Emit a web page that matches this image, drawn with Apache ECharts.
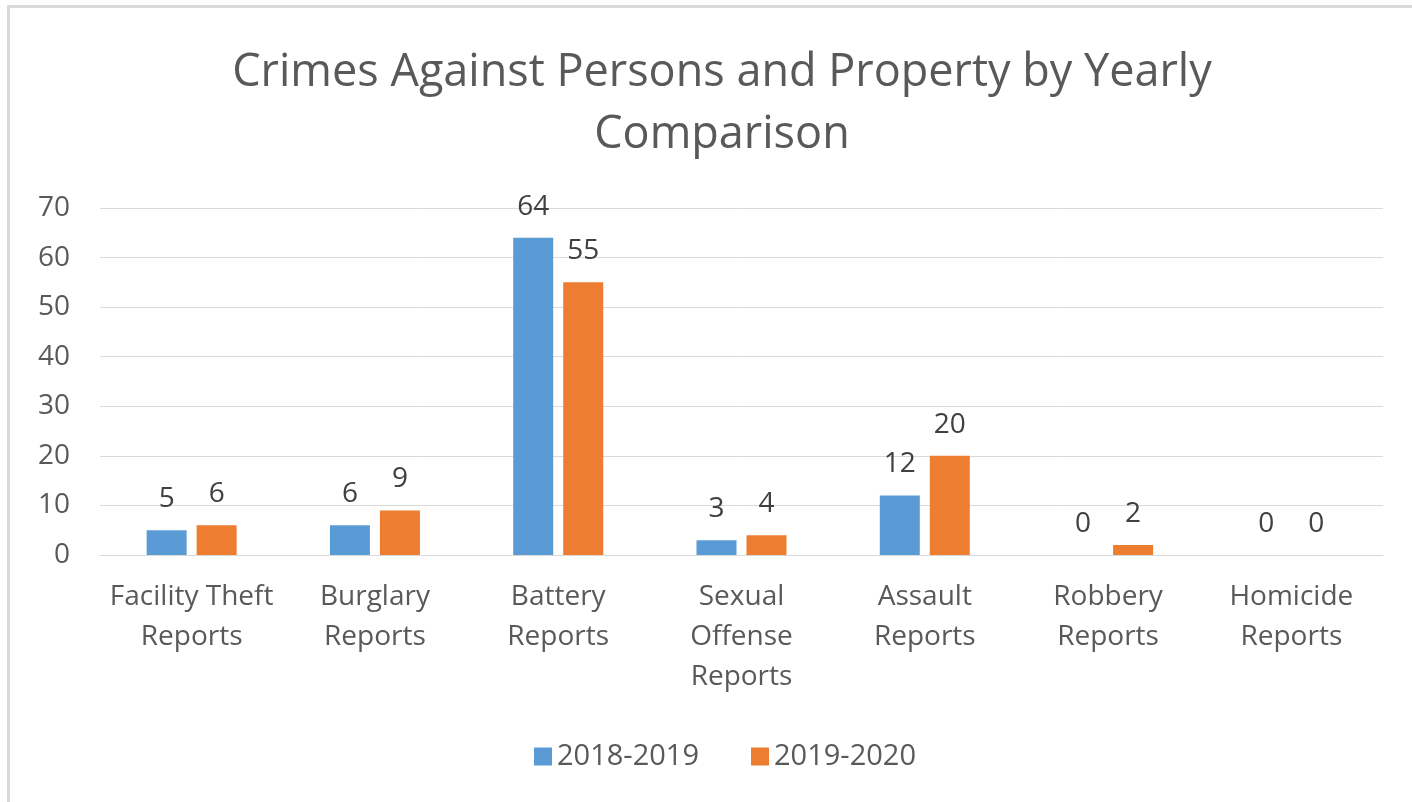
<!DOCTYPE html>
<html>
<head>
<meta charset="utf-8">
<script src="https://cdn.jsdelivr.net/npm/echarts@6/dist/echarts.min.js"></script>
<style>
html,body{margin:0;padding:0;background:#fff;}
#frame{position:absolute;left:7px;top:5px;width:1500px;height:900px;border-top:3px solid #d9d9d9;border-left:3px solid #d9d9d9;box-sizing:border-box;}
#chart{position:absolute;left:0;top:0;width:1412px;height:802px;}
</style>
</head>
<body>
<div id="frame"></div>
<div id="chart"></div>
<script>
var categories = ['Facility Theft\nReports','Burglary\nReports','Battery\nReports','Sexual\nOffense\nReports','Assault\nReports','Robbery\nReports','Homicide\nReports'];
var seriesNames = ['2018-2019','2019-2020'];
var values2018 = [5, 6, 64, 3, 12, 0, 0];
var values2019 = [6, 9, 55, 4, 20, 2, 0];
var yTicks = {min: 0, max: 70, interval: 10};

var font = 'Open Sans';
var chart = echarts.init(document.getElementById('chart'));
chart.setOption({
  animation: false,
  textStyle: {fontFamily: font},
  title: {
    text: 'Crimes Against Persons and Property by Yearly\nComparison',
    left: 717, top: 37, textAlign: 'center',
    textStyle: {fontFamily: font, fontSize: 45, fontWeight: 'normal', color: '#595959', lineHeight: 62}
  },
  legend: {
    left: 529, top: 737,
    itemWidth: 18, itemHeight: 18, itemGap: 52, itemStyle: {borderWidth: 0},
    icon: 'rect',
    textStyle: {fontFamily: font, fontSize: 29, color: '#595959'},
    data: seriesNames
  },
  grid: {left: 100, right: 29, top: 208, bottom: 247},
  xAxis: {
    type: 'category',
    data: categories,
    axisLine: {show: true, lineStyle: {color: '#d9d9d9', width: 1}},
    axisTick: {show: false},
    axisLabel: {fontFamily: font, fontSize: 28, color: '#595959', lineHeight: 40, margin: 22, interval: 0}
  },
  yAxis: {
    type: 'value',
    min: yTicks.min, max: yTicks.max, interval: yTicks.interval,
    axisLine: {show: false},
    axisTick: {show: false},
    splitLine: {lineStyle: {color: '#d9d9d9', width: 1}},
    axisLabel: {fontFamily: font, fontSize: 28, color: '#595959', margin: 30}
  },
  series: [
    {
      name: seriesNames[0], type: 'bar', data: values2018,
      barWidth: 40, barGap: '25%',
      itemStyle: {color: '#5B9BD5'},
      label: {show: true, position: 'top', distance: 17, fontFamily: font, fontSize: 28, color: '#404040'}
    },
    {
      name: seriesNames[1], type: 'bar', data: values2019,
      barWidth: 40,
      itemStyle: {color: '#ED7D31'},
      label: {show: true, position: 'top', distance: 17, fontFamily: font, fontSize: 28, color: '#404040'}
    }
  ]
});
</script>
</body>
</html>
